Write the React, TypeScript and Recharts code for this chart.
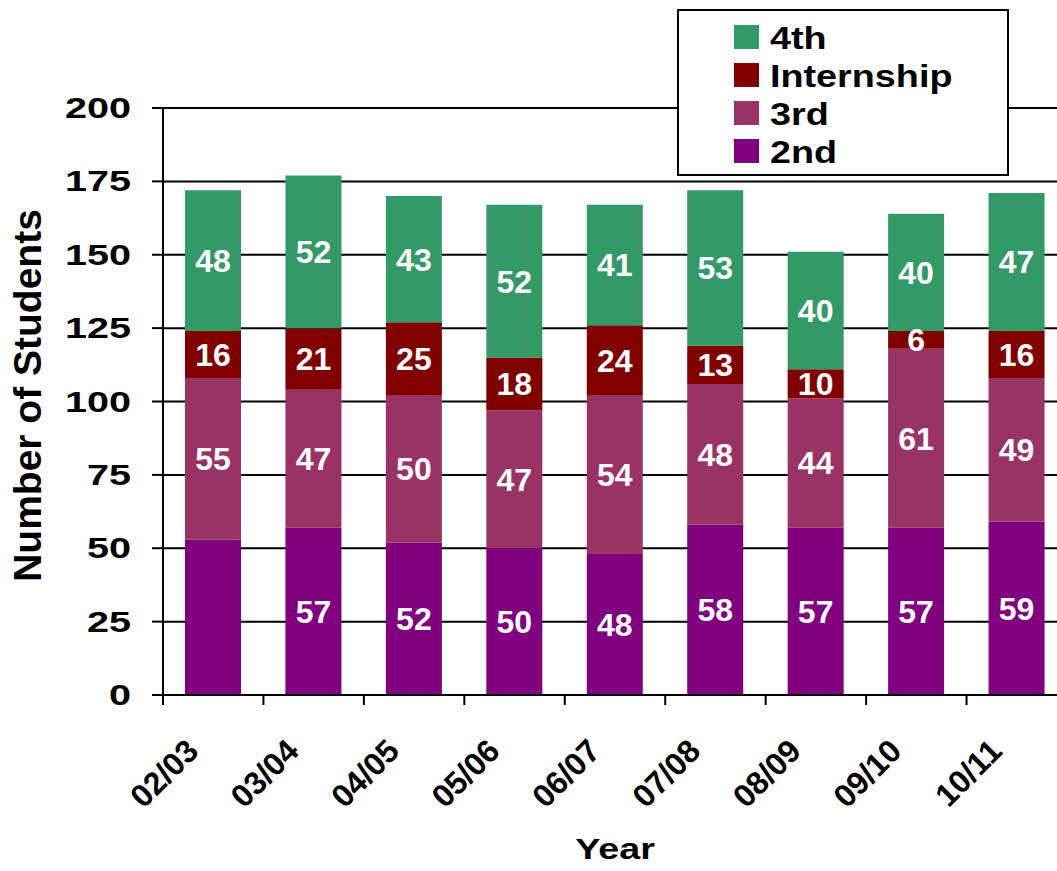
import React from 'react';
import { BarChart, Bar, XAxis, YAxis, CartesianGrid, Legend, LabelList, Label } from 'recharts';

const years = ['02/03', '03/04', '04/05', '05/06', '06/07', '07/08', '08/09', '09/10', '10/11'];
const second = [53, 57, 52, 50, 48, 58, 57, 57, 59];
const third = [55, 47, 50, 47, 54, 48, 44, 61, 49];
const internship = [16, 21, 25, 18, 24, 13, 10, 6, 16];
const fourth = [48, 52, 43, 52, 41, 53, 40, 40, 47];
const yTicks = [0, 25, 50, 75, 100, 125, 150, 175, 200];
// the original shows no value on the 02/03 "2nd" segment
const unlabelledSecond = ['02/03'];
const legendOrder = ['4th', 'Internship', '3rd', '2nd'];

const FONT = '"Liberation Sans", Arial, sans-serif';

const data = years.map((year, i) => ({
  year,
  second: second[i],
  secondLabel: unlabelledSecond.includes(year) ? null : second[i],
  third: third[i],
  internship: internship[i],
  fourth: fourth[i],
}));

// label plus an Excel-style tick mark on the left edge of each category band
const XTick = ({ x, y, payload }: any) => {
  const edge = x - (payload.offset || 0);
  return (
    <g>
      <line x1={edge} y1={y} x2={edge} y2={y + 10} stroke="#000" strokeWidth={2} />
      <text
        transform={`translate(${x - 13}, ${y + 58}) rotate(-45)`}
        textAnchor="end"
        fontFamily={FONT}
        fontWeight="bold"
        fontSize={32}
        fill="#000"
      >
        {payload.value}
      </text>
    </g>
  );
};

const YTick = ({ x, y, payload }: any) => (
  <text
    transform={`translate(${x - 21}, ${y + 10}) scale(1.32, 1)`}
    textAnchor="end"
    fontFamily={FONT}
    fontWeight="bold"
    fontSize={30}
    fill="#000"
  >
    {payload.value}
  </text>
);

const YTitle = ({ viewBox }: any) => (
  <text
    transform={`translate(${viewBox.x + 41}, ${viewBox.y + viewBox.height / 2 - 6}) rotate(-90)`}
    textAnchor="middle"
    fontFamily={FONT}
    fontWeight="bold"
    fontSize={39}
    fill="#000"
  >
    Number of Students
  </text>
);

const XTitle = ({ viewBox }: any) => (
  <text
    transform={`translate(${viewBox.x + viewBox.width / 2}, ${viewBox.y + 164}) scale(1.3, 1)`}
    textAnchor="middle"
    fontFamily={FONT}
    fontWeight="bold"
    fontSize={29}
    fill="#000"
  >
    Year
  </text>
);

const LegendBox = ({ payload }: any) => {
  const items = legendOrder
    .map((name) => (payload || []).find((p: any) => p.value === name))
    .filter(Boolean);
  return (
    <div style={{ width: 328, height: 163, border: '2px solid #000', background: '#fff' }}>
      <svg width={328} height={163}>
        {items.map((it: any, i: number) => (
          <g key={it.value}>
            <rect x={55} y={14 + i * 38} width={25} height={24} fill={it.color} />
            <text
              transform={`translate(91, ${38 + i * 38}) scale(1.18, 1)`}
              fontFamily={FONT}
              fontWeight="bold"
              fontSize={32}
              fill="#000"
            >
              {it.value}
            </text>
          </g>
        ))}
      </svg>
    </div>
  );
};

const labelStyle = { fill: '#fff', fontSize: 32, fontWeight: 'bold', fontFamily: FONT };

export default function App() {
  return (
    <div style={{ position: 'absolute', left: 0, top: 0, width: 1057, height: 871, overflow: 'hidden', background: '#fff' }}>
      <BarChart
        width={1080}
        height={871}
        data={data}
        margin={{ top: 108, right: 13, bottom: 0, left: 0 }}
      >
        <CartesianGrid vertical={false} stroke="#000" strokeWidth={2} />
        <XAxis
          dataKey="year"
          height={176}
          tickLine={false}
          tickSize={0}
          tickMargin={0}
          interval={0}
          tick={<XTick />}
          axisLine={{ stroke: '#000', strokeWidth: 2 }}
        >
          <Label content={<XTitle />} />
        </XAxis>
        <YAxis
          width={163}
          domain={[0, 200]}
          ticks={yTicks}
          interval={0}
          tickSize={11}
          tickMargin={0}
          tick={<YTick />}
          tickLine={{ stroke: '#000', strokeWidth: 2 }}
          axisLine={{ stroke: '#000', strokeWidth: 2 }}
        >
          <Label content={<YTitle />} />
        </YAxis>
        <Legend
          layout="vertical"
          align="center"
          verticalAlign="middle"
          content={<LegendBox />}
          wrapperStyle={{ top: 9, left: 677, width: 332, height: 167 }}
        />
        <Bar dataKey="second" name="2nd" stackId="a" fill="#800080" barSize={56} isAnimationActive={false}>
          <LabelList dataKey="secondLabel" position="center" {...labelStyle} />
        </Bar>
        <Bar dataKey="third" name="3rd" stackId="a" fill="#993366" barSize={56} isAnimationActive={false}>
          <LabelList dataKey="third" position="center" {...labelStyle} />
        </Bar>
        <Bar dataKey="internship" name="Internship" stackId="a" fill="#800000" barSize={56} isAnimationActive={false}>
          <LabelList dataKey="internship" position="center" {...labelStyle} />
        </Bar>
        <Bar dataKey="fourth" name="4th" stackId="a" fill="#339966" barSize={56} isAnimationActive={false}>
          <LabelList dataKey="fourth" position="center" {...labelStyle} />
        </Bar>
      </BarChart>
    </div>
  );
}
